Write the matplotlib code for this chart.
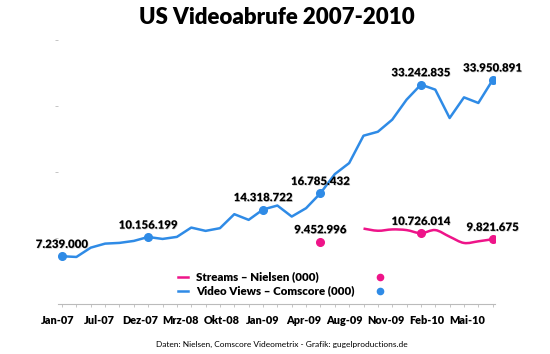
import numpy as np
import matplotlib
matplotlib.use('Agg')
import matplotlib.pyplot as plt
import matplotlib.patheffects as pe
from matplotlib.path import Path
from matplotlib.patches import PathPatch
from matplotlib.lines import Line2D

# Values in thousands, one per category (31 categories on the x axis)
comscore = [7239000, 7130000, 8540000, 9150000, 9260000, 9560000, 10156199,
            9860000, 10170000, 11580000, 11080000, 11490000, 13610000, 12750000,
            14318722, 14920000, 13250000, 14520000, 16785432, 19680000, 21350000,
            25500000, 26100000, 27930000, 30960000, 33242835, 32480000, 28180000,
            31310000, 30460000, 33950891]
nielsen = [np.nan] * 18 + [9452996, np.nan, np.nan, 11430000, 11100000, 11300000,
                           11200000, 10726014, 11200000, 10200000, 9250000, 9500000,
                           9821675]
comscore_marked = [0, 6, 14, 18, 25, 30]
nielsen_marked = [18, 25, 30]
tick_labels = ['Jan-07', 'Jul-07', 'Dez-07', 'Mrz-08', 'Okt-08', 'Jan-09',
               'Apr-09', 'Aug-09', 'Nov-09', 'Feb-10', 'Mai-10']
series_names = ['Streams \u2013 Nielsen (000)', 'Video Views \u2013 Comscore (000)']

blue = '#2F8BE6'
pink = '#EE1489'
plt.rcParams['font.family'] = ['Lato', 'DejaVu Sans']

fig = plt.figure(figsize=(5.5, 3.54), dpi=100)
ax = fig.add_axes([0.1055, 0.1412, 0.7945, 0.7458])

x = np.arange(len(comscore))
comscore = np.array(comscore, dtype=float)
nielsen = np.array(nielsen, dtype=float)

ax.plot(x, comscore, color=blue, lw=1.8, solid_joinstyle='round', zorder=3)
ax.plot(x[comscore_marked], comscore[comscore_marked], 'o', color=blue, ms=5.5, zorder=4)

# smoothed pink line (catmull-rom through the monthly values)
seg = [i for i in range(len(nielsen)) if not np.isnan(nielsen[i]) and i >= 21]
pts = np.column_stack([x[seg], nielsen[seg]])
verts = [tuple(pts[0])]
codes = [Path.MOVETO]
for i in range(len(pts) - 1):
    p0 = pts[max(i - 1, 0)]
    p1 = pts[i]
    p2 = pts[i + 1]
    p3 = pts[min(i + 2, len(pts) - 1)]
    c1 = p1 + (p2 - p0) / 6
    c2 = p2 - (p3 - p1) / 6
    verts += [tuple(c1), tuple(c2), tuple(p2)]
    codes += [Path.CURVE4] * 3
ax.add_patch(PathPatch(Path(verts, codes), fill=False, edgecolor=pink, lw=1.8, zorder=3))
ax.plot(x[nielsen_marked], nielsen[nielsen_marked], 'o', color=pink, ms=5.5, zorder=4)

shadow = [pe.withSimplePatchShadow(offset=(0.5, -0.5), shadow_rgbFace='#888888', alpha=0.45)]

def fmt(v):
    return f"{int(v):,}".replace(",", ".")

for i in comscore_marked:
    ax.annotate(fmt(comscore[i]), (x[i], comscore[i]), xytext=(0, 8.5),
                textcoords='offset points', ha='center', va='center',
                fontsize=8.3, fontweight='heavy', path_effects=shadow, zorder=5)
for i in nielsen_marked:
    ax.annotate(fmt(nielsen[i]), (x[i], nielsen[i]), xytext=(0, 8.5),
                textcoords='offset points', ha='center', va='center',
                fontsize=8.3, fontweight='heavy', path_effects=shadow, zorder=5)

ax.set_xlim(-0.07, 30.16)
ax.set_ylim(0, 40000000)
for s in ['top', 'right', 'left']:
    ax.spines[s].set_visible(False)
ax.spines['bottom'].set_color('#BBBBBB')
ax.spines['bottom'].set_linewidth(0.8)

ax.set_yticks([10000000, 20000000, 30000000, 40000000])
ax.set_yticklabels([])
ax.tick_params(axis='y', length=2, width=0.6, color='#BBBBBB')

ax.set_xticks(x, minor=True)
ax.set_xticks(np.linspace(-0.28, 28.23, len(tick_labels)))
ax.set_xticklabels(tick_labels, fontsize=7.8, fontweight='heavy')
ax.tick_params(axis='x', which='major', length=0, pad=8)
ax.tick_params(axis='x', which='minor', length=2.5, width=0.6, color='#BBBBBB')

# legend drawn by hand: line sample, name, marker sample
for row, (name, col) in enumerate(zip(series_names, [pink, blue])):
    yy = 1 - 276.7 / 354 - row * 14.3 / 354
    fig.add_artist(Line2D([178 / 550, 188 / 550], [yy, yy], color=col, lw=1.8))
    fig.text(196 / 550, yy, name, fontsize=8.3, fontweight='heavy', va='center', ha='left')
    fig.add_artist(Line2D([380 / 550], [yy], marker='o', color=col, ms=4.5))

fig.text(277 / 550, 1 - 18 / 354, 'US Videoabrufe 2007-2010', fontsize=16,
         fontweight='heavy', ha='center', va='center')
fig.text(282 / 550, 1 - 344 / 354,
         'Daten: Nielsen, Comscore Videometrix - Grafik: gugelproductions.de',
         fontsize=6, ha='center', va='center')

fig.savefig('out.png', dpi=100)
